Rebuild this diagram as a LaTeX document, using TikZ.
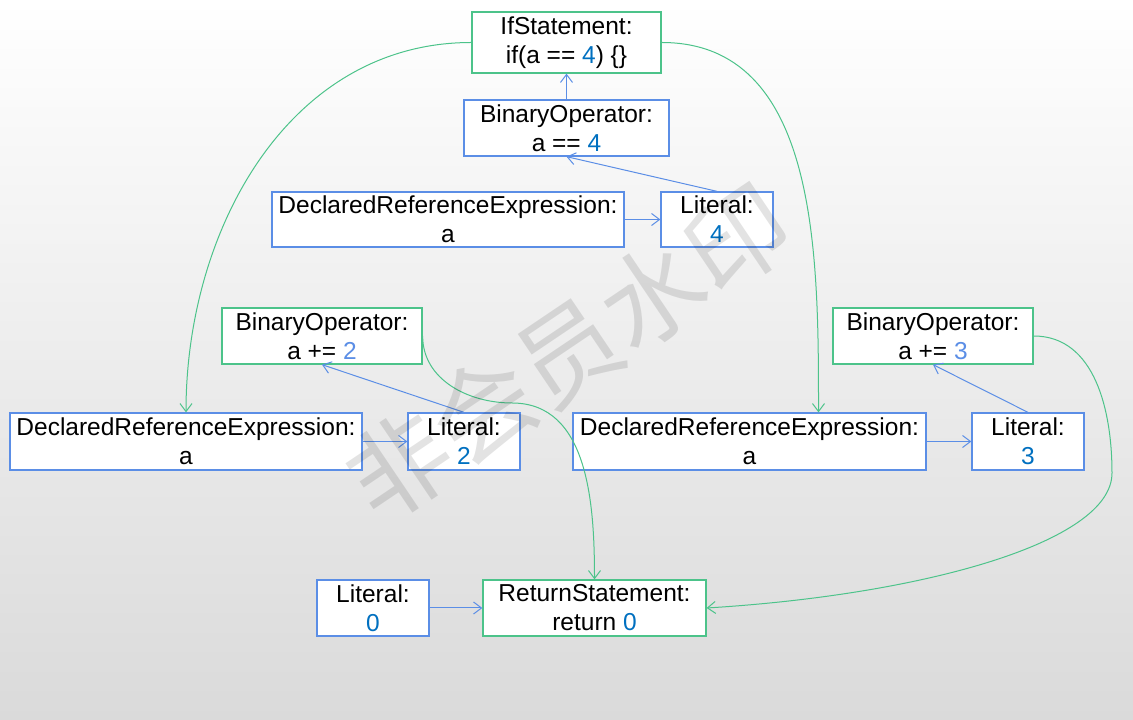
\documentclass[tikz,border=0pt]{standalone}
\usepackage{fontspec}
\setmainfont{Liberation Sans}
\newfontfamily\cjkfont{Noto Sans CJK SC}
\usepackage{tikz}
\usetikzlibrary{arrows.meta}
\definecolor{astGreen}{HTML}{4CC38A}
\definecolor{astBlue}{HTML}{5B8EE6}
\definecolor{astNum}{HTML}{0070C0}
\definecolor{astPale}{HTML}{DADADA}

\begin{document}
\begin{tikzpicture}[x=1pt,y=1pt,font=\fontsize{24.5}{29}\selectfont,
  b/.style={draw=astBlue,fill=white,line width=1.3pt,minimum height=56pt,
            inner sep=0pt,align=center},
  g/.style={b,draw=astGreen},
  a/.style={-{Straight Barb[length=8pt,width=12pt]},astBlue,line width=1pt},
  c/.style={a,astGreen}]
\useasboundingbox (0,0) rectangle (1133,720);
\shade[top color=white,bottom color=astPale] (0,0) rectangle (1133,720);
\node[g,minimum width=189pt,minimum height=61pt] (ifs) at (566.5,677.5) {IfStatement:\\ if(a == \textcolor{astNum}{4}) \{\}};
\node[b,minimum width=205pt] (bo4) at (566.5,592) {BinaryOperator:\\ a == \textcolor{astNum}{4}};
\node[b,minimum width=352pt,minimum height=55pt] (dre4) at (448,500.5) {DeclaredReferenceExpression:\\ a};
\node[b,minimum width=112pt,minimum height=55pt] (lit4) at (717,500.5) {Literal:\\ \textcolor{astNum}{4}};
\node[g,minimum width=200pt] (bo2) at (322,384) {BinaryOperator:\\ a += \textcolor{astBlue}{2}};
\node[b,minimum width=352pt,minimum height=57pt] (dre2) at (186,278.5) {DeclaredReferenceExpression:\\ a};
\node[b,minimum width=112pt,minimum height=57pt] (lit2) at (464,278.5) {Literal:\\ \textcolor{astNum}{2}};
\node[g,minimum width=200pt] (bo3) at (933,384) {BinaryOperator:\\ a += \textcolor{astBlue}{3}};
\node[b,minimum width=353pt,minimum height=57pt] (dre3) at (749.5,278.5) {DeclaredReferenceExpression:\\ a};
\node[b,minimum width=112pt,minimum height=57pt] (lit3) at (1028,278.5) {Literal:\\ \textcolor{astNum}{3}};
\node[b,minimum width=112pt] (lit0) at (373,112) {Literal:\\ \textcolor{astNum}{0}};
\node[g,minimum width=223pt] (ret) at (594.5,112) {ReturnStatement:\\ return \textcolor{astNum}{0}};
\coordinate (k2) at (512,317);
\coordinate (k3) at (1112,247);
\draw[a] (bo4) -- (ifs);
\draw[a] (lit4.north) -- (bo4.south);
\draw[a] (dre4) -- (lit4);
\draw[a] (lit2.north) -- (bo2.south);
\draw[a] (dre2) -- (lit2);
\draw[a] (lit3.north) -- (bo3.south);
\draw[a] (dre3) -- (lit3);
\draw[a] (lit0) -- (ret);
\draw[c] (ifs.west) to[out=180,in=90] (dre2.north);
\draw[c] (ifs.east) to[out=0,in=90] ([xshift=69pt]dre3.north);
\draw[c] (bo2.east) to[out=-90,in=180] (k2) to[out=0,in=90] (ret.north);
\draw[c] (bo3.east) to[out=0,in=90] (k3) .. controls +(0,-70) and (920,125) .. (ret.east);
\node[rotate=34,text=black,opacity=0.11,font=\cjkfont\fontsize{102}{102}\selectfont] (wm) at (568,368) {非会员水印};
\end{tikzpicture}
\end{document}
